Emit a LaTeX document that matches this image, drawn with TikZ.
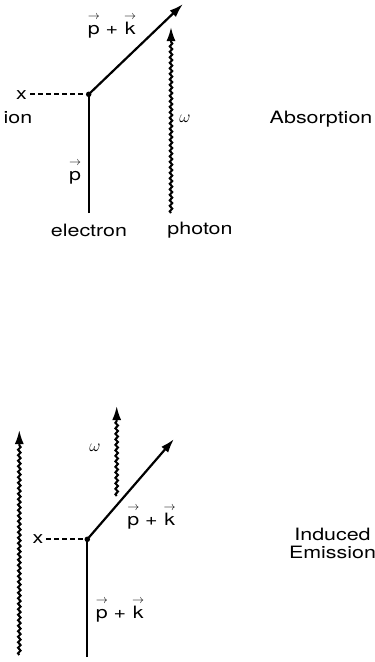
\documentclass[tikz,border=0pt]{standalone}
\usepackage{fontspec}
\setmainfont[FakeStretch=1.26]{TeX Gyre Heros}
\usetikzlibrary{arrows.meta,decorations.pathmorphing}
\newcommand\vp{$\stackrel{\rightarrow}{\hbox{p\vphantom{k}}}$}
\newcommand\vk{$\stackrel{\rightarrow}{\hbox{k}}$}
\begin{document}
\begin{tikzpicture}[x=1pt,y=-1pt,
  lbl/.style={inner sep=0pt,font=\fontsize{17}{20}\selectfont},
  om/.style={inner sep=0pt,font=\fontsize{17}{20}\selectfont},
  fermion/.style={line width=2.2pt},
  fermarrow/.style={line width=2.2pt,-{Latex[length=14pt,width=9pt]}},
  photonline/.style={line width=2pt,decorate,decoration={snake,amplitude=1.3pt,segment length=5.5pt,post length=14pt},-{Latex[length=14pt,width=9pt]}},
  ionline/.style={line width=1.8pt,dash pattern=on 5pt off 3pt},
  vtx/.style={circle,fill,inner sep=0pt,minimum size=5.5pt}]
\useasboundingbox (0,0) rectangle (375,662);
% ---------- Absorption ----------
\node[vtx] (v1) at (88.7,94.3) {};
\coordinate (e1in) at (88.7,213);
\coordinate (e1out) at (183,4);
\coordinate (g1in) at (171,213);
\coordinate (g1out) at (171,27);
\node[lbl] (x1) at (21.5,95) {x};
\coordinate (d1) at (30,94.3);
\node[lbl] (ion) at (18,117.5) {ion};
\draw[fermion] (e1in) -- (v1.center);
\draw[fermarrow] (v1.center) -- (e1out);
\draw[ionline] (d1) -- (v1);
\draw[photonline] (g1in) -- (g1out);
\node[lbl] (p1) at (75,172) {\vp};
\node[lbl] (pk1) at (112,26) {\vp{} + \vk};
\node[om] (w1) at (185,119) {$\omega$};
\node[lbl] (abs) at (321,119) {Absorption};
\node[lbl] (el) at (89,230) {electron};
\node[lbl] (ph) at (200,230) {photon};
% ---------- Induced emission ----------
\node[vtx] (v2) at (87.3,539.3) {};
\coordinate (e2in) at (87.3,657);
\coordinate (e2out) at (174,439);
\coordinate (g2in) at (19.3,655);
\coordinate (g2out) at (19.3,430);
\coordinate (g3in) at (116.7,496);
\coordinate (g3out) at (116.7,406);
\node[lbl] (x2) at (38,539) {x};
\coordinate (d2) at (46,539.3);
\draw[fermion] (e2in) -- (v2.center);
\draw[fermarrow] (v2.center) -- (e2out);
\draw[ionline] (d2) -- (v2);
\draw[photonline] (g2in) -- (g2out);
\draw[photonline] (g3in) -- (g3out);
\node[om] (w2) at (95,448) {$\omega$};
\node[lbl] (pk2) at (151.5,517) {\vp{} + \vk};
\node[lbl] (pk3) at (120,610) {\vp{} + \vk};
\node[lbl] (ind) at (332.5,534) {Induced};
\node[lbl] (emi) at (332.5,552.5) {Emission};
\end{tikzpicture}
\end{document}
